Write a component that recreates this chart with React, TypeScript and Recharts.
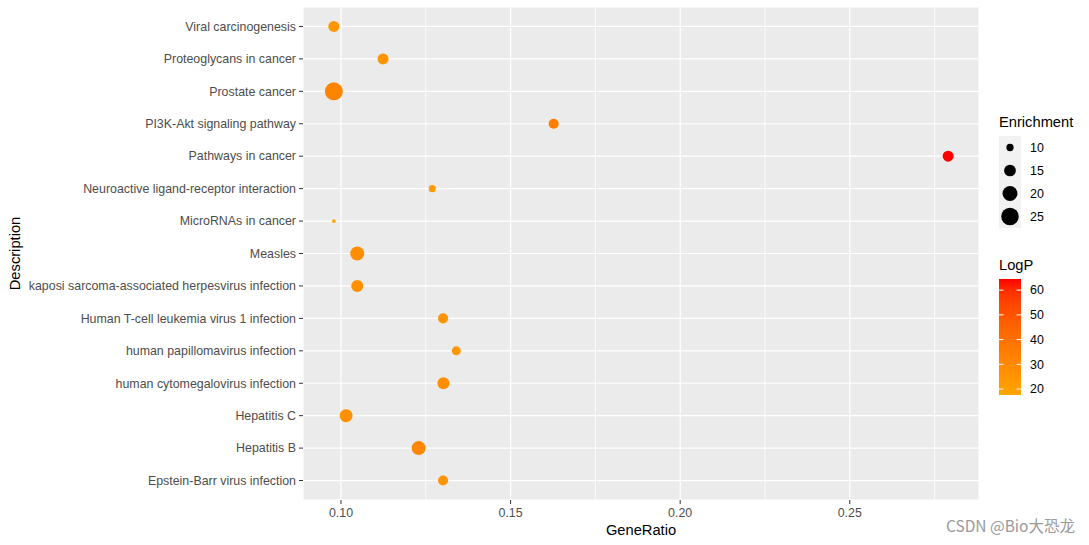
import React from "react";
import {
  ScatterChart,
  Scatter,
  XAxis,
  YAxis,
  ZAxis,
  CartesianGrid,
  ReferenceLine,
  Cell,
} from "recharts";

// KEGG enrichment terms, top to bottom
const descriptions = [
  "Viral carcinogenesis",
  "Proteoglycans in cancer",
  "Prostate cancer",
  "PI3K-Akt signaling pathway",
  "Pathways in cancer",
  "Neuroactive ligand-receptor interaction",
  "MicroRNAs in cancer",
  "Measles",
  "kaposi sarcoma-associated herpesvirus infection",
  "Human T-cell leukemia virus 1 infection",
  "human papillomavirus infection",
  "human cytomegalovirus infection",
  "Hepatitis C",
  "Hepatitis B",
  "Epstein-Barr virus infection",
];
const geneRatio = [0.0979, 0.1124, 0.0979, 0.1627, 0.279, 0.1269, 0.0979, 0.1048, 0.1048, 0.1301, 0.134, 0.1302, 0.1015, 0.1229, 0.1301];
const enrichment = [14, 14, 26, 12.8, 14, 9.8, 7.7, 18.4, 15.4, 12.8, 11.6, 15.4, 16.8, 18.4, 12.8];
const logP = [24.6, 25, 32, 35, 64.5, 22.8, 17.6, 28.4, 26.5, 25.5, 23.5, 28, 26.5, 31, 26];

const xTicks = [0.1, 0.15, 0.2, 0.25];
const xMinorTicks = [0.125, 0.175, 0.225, 0.275];
const sizeBreaks = [10, 15, 20, 25];
const colorBreaks = [20, 30, 40, 50, 60];

const FONT = "'Liberation Sans', Arial, sans-serif";
const TICK_SIZE = 12.4;
const LOW = [255, 165, 0]; // orange
const HIGH = [255, 0, 0]; // red

// ggplot-ish gradient: interpolate in CIELAB
const toLin = (c: number) => {
  c /= 255;
  return c <= 0.04045 ? c / 12.92 : Math.pow((c + 0.055) / 1.055, 2.4);
};
const rgb2lab = ([r, g, b]: number[]) => {
  const R = toLin(r), G = toLin(g), B = toLin(b);
  const X = (0.4124 * R + 0.3576 * G + 0.1805 * B) / 0.95047;
  const Y = 0.2126 * R + 0.7152 * G + 0.0722 * B;
  const Z = (0.0193 * R + 0.1192 * G + 0.9505 * B) / 1.08883;
  const f = (t: number) => (t > 0.008856 ? Math.cbrt(t) : 7.787 * t + 16 / 116);
  const fx = f(X), fy = f(Y), fz = f(Z);
  return [116 * fy - 16, 500 * (fx - fy), 200 * (fy - fz)];
};
const lab2rgb = ([L, a, b]: number[]) => {
  const fy = (L + 16) / 116, fx = fy + a / 500, fz = fy - b / 200;
  const inv = (t: number) => (t ** 3 > 0.008856 ? t ** 3 : (t - 16 / 116) / 7.787);
  const X = inv(fx) * 0.95047, Y = inv(fy), Z = inv(fz) * 1.08883;
  const R = 3.2406 * X - 1.5372 * Y - 0.4986 * Z;
  const G = -0.9689 * X + 1.8758 * Y + 0.0415 * Z;
  const B = 0.0557 * X - 0.204 * Y + 1.057 * Z;
  const g = (c: number) => {
    c = Math.min(1, Math.max(0, c));
    return Math.round(255 * (c <= 0.0031308 ? 12.92 * c : 1.055 * Math.pow(c, 1 / 2.4) - 0.055));
  };
  return `rgb(${g(R)},${g(G)},${g(B)})`;
};
const labLow = rgb2lab(LOW);
const labHigh = rgb2lab(HIGH);
const pMin = Math.min(...logP);
const pMax = Math.max(...logP);
const colorFor = (p: number) => {
  const t = (p - pMin) / (pMax - pMin);
  return lab2rgb(labLow.map((v, i) => v + (labHigh[i] - v) * t));
};

// size: area linear in enrichment (same mapping for ZAxis and legend)
const eMin = Math.min(...enrichment);
const eMax = Math.max(...enrichment);
const AREA: [number, number] = [11.3, 254.7];
const areaFor = (e: number) => AREA[0] + ((e - eMin) / (eMax - eMin)) * (AREA[1] - AREA[0]);

const rows = descriptions.map((d, i) => ({
  idx: i,
  name: d,
  ratio: geneRatio[i],
  enrichment: enrichment[i],
  logP: logP[i],
}));

// plain svg text so long labels never wrap
const YTick = ({ x, y, payload }: any) => (
  <text x={x} y={y} dy={4.3} textAnchor="end" fill="#4D4D4D" fontSize={TICK_SIZE} fontFamily={FONT}>
    {descriptions[payload.value]}
  </text>
);
const XTick = ({ x, y, payload }: any) => (
  <text x={x} y={y} dy={9.5} textAnchor="middle" fill="#4D4D4D" fontSize={TICK_SIZE} fontFamily={FONT}>
    {Number(payload.value).toFixed(2)}
  </text>
);

const SideLegend = () => {
  const barTop = 279;
  const barBottom = 395;
  const barY = (v: number) => barBottom - ((v - pMin) / (pMax - pMin)) * (barBottom - barTop);
  const stops = Array.from({ length: 11 }, (_, i) => i / 10);
  return (
    <svg width={1089} height={545} style={{ position: "absolute", left: 0, top: 0, pointerEvents: "none" }}>
      <defs>
        <linearGradient id="logpGrad" x1="0" y1="1" x2="0" y2="0">
          {stops.map((s) => (
            <stop key={s} offset={s} stopColor={colorFor(pMin + s * (pMax - pMin))} />
          ))}
        </linearGradient>
      </defs>
      <text x={999} y={127} fontFamily={FONT} fontSize={14.7} fill="#000">Enrichment</text>
      <rect x={999} y={136} width={22} height={92} fill="#F2F2F2" />
      {sizeBreaks.map((b, i) => (
        <g key={b}>
          <circle cx={1010} cy={147.5 + i * 23} r={Math.sqrt(areaFor(b) / Math.PI)} fill="#000" />
          <text x={1030} y={147.5 + i * 23 + 4.3} fontFamily={FONT} fontSize={TICK_SIZE} fill="#000">{b}</text>
        </g>
      ))}
      <text x={999} y={270} fontFamily={FONT} fontSize={14.7} fill="#000">LogP</text>
      <rect x={999} y={barTop} width={22} height={barBottom - barTop} fill="url(#logpGrad)" />
      {colorBreaks.map((b) => (
        <g key={b}>
          <line x1={999} x2={1003.5} y1={barY(b)} y2={barY(b)} stroke="#fff" strokeWidth={1} />
          <line x1={1016.5} x2={1021} y1={barY(b)} y2={barY(b)} stroke="#fff" strokeWidth={1} />
          <text x={1030} y={barY(b) + 4.3} fontFamily={FONT} fontSize={TICK_SIZE} fill="#000">{b}</text>
        </g>
      ))}
      <text x={1075} y={532} textAnchor="end" fontFamily="'Noto Sans CJK SC', 'Liberation Sans', sans-serif" fontSize={15.5} fill="#9a9a9a">
        CSDN @Bio大恐龙
      </text>
    </svg>
  );
};

export default function App() {
  return (
    <div style={{ position: "absolute", left: 0, top: 0, width: 1089, height: 545, background: "#fff", fontFamily: FONT }}>
      <ScatterChart width={1089} height={545} margin={{ top: 7, right: 110, bottom: 0, left: 0 }}>
        <CartesianGrid fill="#EBEBEB" stroke="#FFFFFF" strokeWidth={1.2} />
        {xMinorTicks.map((v) => (
          <ReferenceLine key={v} x={v} stroke="#FFFFFF" strokeWidth={0.8} />
        ))}
        <XAxis
          type="number"
          dataKey="ratio"
          domain={[0.0888, 0.2881]}
          allowDataOverflow
          ticks={xTicks}
          interval={0}
          height={45}
          tickSize={4}
          tickMargin={3}
          axisLine={false}
          tickLine={{ stroke: "#333333" }}
          tick={<XTick />}
          label={{ value: "GeneRatio", position: "insideBottom", offset: 10, fill: "#000", fontSize: 14.7, fontFamily: FONT }}
        />
        <YAxis
          type="number"
          dataKey="idx"
          domain={[-0.6, descriptions.length - 0.4]}
          reversed
          ticks={descriptions.map((_, i) => i)}
          interval={0}
          width={303}
          tickSize={4}
          tickMargin={3}
          axisLine={false}
          tickLine={{ stroke: "#333333" }}
          tick={<YTick />}
          label={{
            value: "Description",
            angle: -90,
            position: "insideLeft",
            offset: 15,
            fill: "#000",
            fontSize: 14.7,
            fontFamily: FONT,
            style: { textAnchor: "middle" },
          }}
        />
        <ZAxis type="number" dataKey="enrichment" domain={[eMin, eMax]} range={AREA} />
        <Scatter data={rows} isAnimationActive={false}>
          {rows.map((r) => (
            <Cell key={r.name} fill={colorFor(r.logP)} />
          ))}
        </Scatter>
      </ScatterChart>
      <SideLegend />
    </div>
  );
}
